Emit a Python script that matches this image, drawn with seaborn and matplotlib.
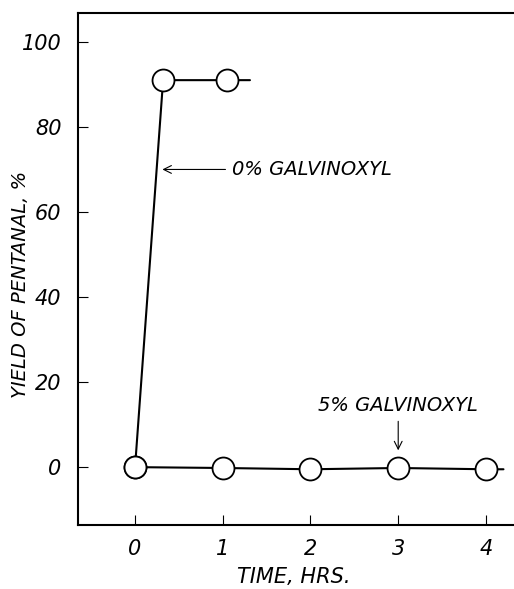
import matplotlib
matplotlib.use("Agg")
import matplotlib.pyplot as plt
import seaborn as sns
import pandas as pd

# data
time_0 = [0.0, 0.32, 1.05]
yield_0 = [0.0, 91.0, 91.0]
line_0_end = (1.31, 91.0)

time_5 = [0.0, 1.0, 2.0, 3.0, 4.0]
yield_5 = [0.0, -0.2, -0.5, -0.2, -0.5]
line_5_end = (4.2, -0.5)

x_ticks = [0, 1, 2, 3, 4]
y_ticks = [0, 20, 40, 60, 80, 100]

sns.set_style("ticks")
plt.rcParams['font.family'] = ['DejaVu Sans']
plt.rcParams['font.style'] = 'italic'
plt.rcParams['text.color'] = 'black'
plt.rcParams['axes.labelcolor'] = 'black'

fig = plt.figure(figsize=(5.14, 5.89), dpi=100)
ax = fig.add_axes([0.1518, 0.1087, 0.8482, 0.8693])

df0 = pd.DataFrame({'time': time_0 + [line_0_end[0]], 'yield': yield_0 + [line_0_end[1]]})
df5 = pd.DataFrame({'time': time_5 + [line_5_end[0]], 'yield': yield_5 + [line_5_end[1]]})

for d in (df0, df5):
    sns.lineplot(data=d, x='time', y='yield', ax=ax, color='black', lw=1.5,
                 sort=False, estimator=None)

pts = pd.DataFrame({'time': time_0 + time_5, 'yield': yield_0 + yield_5})
sns.scatterplot(data=pts, x='time', y='yield', ax=ax, s=250, color='white',
                edgecolor='black', linewidth=1.3, zorder=5)

ax.set_xlim(-0.65, 4.32)
ax.set_ylim(-13.6, 106.8)
ax.set_xticks(x_ticks)
ax.set_yticks(y_ticks)
ax.set_xticklabels([str(t) for t in x_ticks], fontsize=15, style='italic')
ax.set_yticklabels([str(t) for t in y_ticks], fontsize=15, style='italic')
ax.tick_params(direction='in', length=7, width=0.8, pad=12, colors='black')
ax.tick_params(axis='x', pad=10)

for s in ['left', 'bottom', 'top']:
    ax.spines[s].set_linewidth(1.5)
    ax.spines[s].set_color('black')
ax.spines['right'].set_visible(False)

ax.set_xlabel('TIME, HRS.', fontsize=15, style='italic')
ax.set_ylabel('YIELD OF PENTANAL, %', fontsize=14, style='italic')
ax.xaxis.set_label_coords(0.494, -0.082)
ax.yaxis.set_label_coords(-0.11, 0.47)

ax.annotate('0% GALVINOXYL', xy=(0.28, 70), xytext=(1.1, 70),
            fontsize=14, style='italic', va='center', ha='left',
            arrowprops=dict(arrowstyle='->', color='black', lw=0.8))
ax.annotate('5% GALVINOXYL', xy=(3.0, 3.3), xytext=(3.0, 12.2),
            fontsize=14, style='italic', va='bottom', ha='center',
            arrowprops=dict(arrowstyle='->', color='black', lw=0.8))

fig.savefig('out.png', dpi=100)
